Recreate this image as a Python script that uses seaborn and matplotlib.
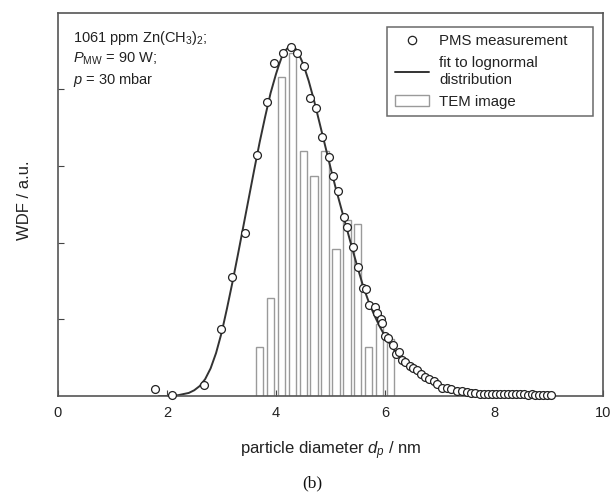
import matplotlib
matplotlib.use("Agg")
import matplotlib.pyplot as plt
import seaborn as sns
from matplotlib.patches import Patch
from matplotlib.lines import Line2D

sns.set_theme(style="ticks")
plt.rcParams['font.family'] = ['Liberation Sans', 'DejaVu Sans']
plt.rcParams['mathtext.fontset'] = 'custom'
plt.rcParams['mathtext.rm'] = 'Liberation Sans'
plt.rcParams['mathtext.it'] = 'Liberation Sans:italic'
plt.rcParams['mathtext.bf'] = 'Liberation Sans:bold'

# PMS measurement points (diameter nm, WDF a.u.)
pms_d = [1.78, 2.09, 2.67, 2.99, 3.19, 3.43, 3.65, 3.84, 3.97, 4.12, 4.27, 4.39,
         4.52, 4.63, 4.73, 4.85, 4.97, 5.05, 5.14, 5.25, 5.31, 5.41, 5.50, 5.60,
         5.65, 5.71, 5.81, 5.86, 5.92, 5.95, 6.00, 6.06, 6.14, 6.20, 6.25, 6.31,
         6.37, 6.46, 6.52, 6.59, 6.66, 6.73, 6.81, 6.89, 6.96, 7.04, 7.13, 7.22,
         7.32, 7.41, 7.50, 7.58, 7.66, 7.74, 7.81, 7.89, 7.96, 8.04, 8.11, 8.19,
         8.26, 8.33, 8.41, 8.48, 8.55, 8.62, 8.69, 8.76, 8.83, 8.90, 8.97, 9.05]
pms_w = [0.09, 0.01, 0.14, 0.87, 1.55, 2.12, 3.14, 3.83, 4.34, 4.48, 4.55, 4.47,
         4.31, 3.89, 3.76, 3.38, 3.12, 2.87, 2.68, 2.34, 2.20, 1.94, 1.68, 1.41,
         1.40, 1.19, 1.16, 1.08, 1.01, 0.95, 0.78, 0.76, 0.67, 0.55, 0.58, 0.47,
         0.44, 0.39, 0.36, 0.34, 0.29, 0.25, 0.22, 0.19, 0.16, 0.11, 0.10, 0.09,
         0.07, 0.06, 0.05, 0.04, 0.04, 0.03, 0.03, 0.03, 0.02, 0.03, 0.02, 0.02,
         0.02, 0.03, 0.02, 0.02, 0.02, 0.01, 0.02, 0.01, 0.01, 0.01, 0.01, 0.01]

# fit to lognormal distribution
fit_d = [1.85, 2.0, 2.2, 2.4, 2.5, 2.6, 2.7, 2.8, 2.9, 3.0, 3.1, 3.2, 3.3, 3.4,
         3.5, 3.6, 3.7, 3.8, 3.9, 4.0, 4.05, 4.1, 4.15, 4.2, 4.25, 4.3, 4.35,
         4.4, 4.5, 4.6, 4.7, 4.8, 4.9, 5.0, 5.1, 5.2, 5.3, 5.4, 5.5, 5.6, 5.7,
         5.8, 5.9, 6.0, 6.1, 6.2, 6.3, 6.4, 6.5, 6.6, 6.7, 6.8, 6.9, 7.0, 7.2,
         7.5, 8.0, 8.5, 9.0]
fit_w = [0.0, 0.0, 0.01, 0.04, 0.075, 0.13, 0.22, 0.36, 0.56, 0.82, 1.14, 1.48,
         1.84, 2.21, 2.58, 2.95, 3.31, 3.64, 3.95, 4.20, 4.31, 4.41, 4.48, 4.53,
         4.555, 4.56, 4.54, 4.49, 4.33, 4.11, 3.85, 3.56, 3.27, 2.98, 2.70, 2.44,
         2.18, 1.92, 1.67, 1.43, 1.23, 1.06, 0.91, 0.78, 0.665, 0.57, 0.48, 0.41,
         0.345, 0.29, 0.245, 0.20, 0.17, 0.14, 0.10, 0.06, 0.03, 0.015, 0.008]

# TEM image histogram
tem_d = [3.7, 3.9, 4.1, 4.3, 4.5, 4.7, 4.9, 5.1, 5.3, 5.5, 5.7, 5.9, 6.1]
tem_w = [0.64, 1.28, 4.16, 4.47, 3.19, 2.87, 3.20, 1.92, 2.30, 2.24, 0.64, 0.94, 0.75]

xticks = [0, 2, 4, 6, 8, 10]

fig = plt.figure(figsize=(6.12, 4.96), dpi=100)
ax = fig.add_axes([58/612, 1-396/496, 545/612, 383.3/496])

ax.bar(tem_d, tem_w, width=0.135, color='white', edgecolor='#9a9a9a',
       linewidth=1.0, zorder=1)
sns.lineplot(x=fit_d, y=fit_w, ax=ax, color='#333333', linewidth=1.4,
             zorder=2, legend=False)
sns.scatterplot(x=pms_d, y=pms_w, ax=ax, marker='o', s=32, facecolor='white',
                edgecolor='#222222', linewidth=0.9, zorder=3, clip_on=False,
                legend=False)

ax.set_xlim(0, 10)
ax.set_ylim(0, 5)
ax.set_xticks(xticks)
ax.set_xticklabels([str(t) for t in xticks])
ax.set_yticks([1, 2, 3, 4])
ax.set_yticklabels([])
ax.tick_params(axis='both', direction='in', length=4, width=0.8, colors='#444444',
               labelcolor='#222222', labelsize=10.5, pad=7)
for s in ax.spines.values():
    s.set_visible(True)
    s.set_color('#555555')
    s.set_linewidth(1.2)

ax.set_xlabel('particle diameter $d_p$ / nm', fontsize=12, color='#222222', labelpad=14)
ax.set_ylabel('WDF / a.u.', fontsize=12, color='#222222')
ax.yaxis.set_label_coords((32 - 58) / 545, 0.51)

ax.text(0.028, 0.958, '1061 ppm Zn(CH$_3$)$_2$;\n$P_{\\rm MW}$ = 90 W;\n$p$ = 30 mbar',
        transform=ax.transAxes, ha='left', va='top', fontsize=10.5,
        color='#222222', linespacing=1.3)

handles = [Line2D([], [], marker='o', linestyle='none', markersize=6,
                  markerfacecolor='white', markeredgecolor='#222222', markeredgewidth=0.9),
           Line2D([], [], color='#333333', linewidth=1.4),
           Patch(facecolor='white', edgecolor='#9a9a9a', linewidth=1.0)]
labels = ['PMS measurement', 'fit to lognormal\ndistribution', 'TEM image']
leg = ax.legend(handles, labels, loc='upper left',
                bbox_to_anchor=(0.604, 0.728, 0.378, 0.235), mode='expand',
                fontsize=10.8, frameon=True, fancybox=False, edgecolor='#444444',
                handlelength=2.3, handletextpad=0.65, borderpad=0.5,
                labelspacing=0.5, borderaxespad=0.0)
leg.get_frame().set_linewidth(1.1)
for t in leg.get_texts():
    t.set_color('#222222')
    t.set_linespacing(1.3)

fig.text(312/612, 1-483/496, '(b)', ha='center', va='center',
         fontsize=12.5, family=['Liberation Serif', 'DejaVu Serif'], color='#111111')

fig.savefig('out.png', dpi=100, facecolor='white')
